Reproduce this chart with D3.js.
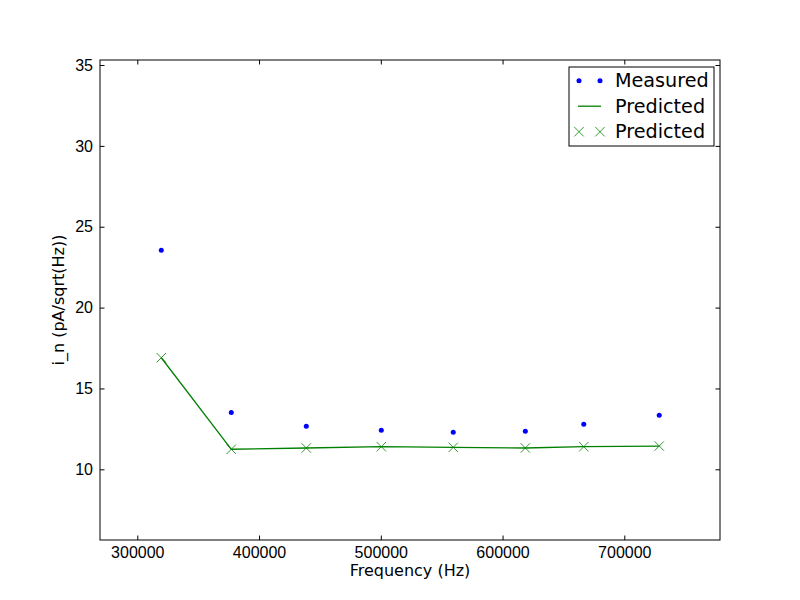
<!DOCTYPE html>
<html>
<head>
<meta charset="utf-8">
<script src="https://cdn.jsdelivr.net/npm/d3@7"></script>
<style>
  body { margin: 0; background: #fff; }
  svg { display: block; font-family: "DejaVu Sans", sans-serif; }
  .tick text { font-size: 16px; fill: #000; }
</style>
</head>
<body>
<div id="chart"></div>
<script>
// frequencies (Hz)
var frequencies = [319700, 377200, 438800, 500400, 559500, 618700, 666700, 728700];
// measured noise current
var measured = [23.54, 13.52, 12.66, 12.41, 12.29, 12.35, 12.78, 13.34];
// predicted noise current
var predicted = [16.90, 11.24, 11.32, 11.40, 11.36, 11.32, 11.40, 11.44];

var xTicks = [300000, 400000, 500000, 600000, 700000];
var yTicks = [10, 15, 20, 25, 30, 35];
var xDomain = [269360, 778600];
var yDomain = [5.63, 35.31];

var legendItems = ["Measured", "Predicted", "Predicted"];

function drawChart() {
    var svg = d3.select("#chart").append("svg")
        .attr("width", 800)
        .attr("height", 600);
    var margin = { top: 60, right: 80, bottom: 60, left: 100 },
        width = +svg.attr("width") - margin.left - margin.right,
        height = +svg.attr("height") - margin.top - margin.bottom,
        g = svg.append("g").attr("transform", "translate(" + margin.left + "," + margin.top + ")");

    var x = d3.scaleLinear().domain(xDomain).range([0, width]);
    var y = d3.scaleLinear().domain(yDomain).range([height, 0]);

    var data = frequencies.map(function (f, i) {
        return { f: f, m: measured[i], p: predicted[i] };
    });

    // axes, ticks pointing inward like matplotlib classic
    var bottom = g.append("g")
        .attr("transform", "translate(0," + height + ")")
        .call(d3.axisBottom(x).tickValues(xTicks).tickSize(-4.5).tickPadding(7).tickFormat(d3.format("d")));
    var top = g.append("g")
        .call(d3.axisTop(x).tickValues(xTicks).tickSize(-4.5).tickFormat(""));
    var left = g.append("g")
        .call(d3.axisLeft(y).tickValues(yTicks).tickSize(-4.5).tickPadding(7).tickFormat(d3.format("d")));
    var right = g.append("g")
        .attr("transform", "translate(" + width + ",0)")
        .call(d3.axisRight(y).tickValues(yTicks).tickSize(-4.5).tickFormat(""));

    [bottom, top, left, right].forEach(function (a) {
        a.select(".domain").remove();
        a.selectAll(".tick line").attr("stroke", "#000").attr("stroke-width", 1);
    });

    // predicted line
    var line = d3.line()
        .x(function (d) { return x(d.f); })
        .y(function (d) { return y(d.p); });

    g.append("path")
        .datum(data)
        .attr("d", line)
        .attr("fill", "none")
        .attr("stroke", "#008000")
        .attr("stroke-width", 1.3);

    // predicted markers
    var cross = d3.symbol().type(d3.symbolX).size(60);
    g.selectAll("path.pred")
        .data(data)
        .enter()
        .append("path")
        .attr("class", "pred")
        .attr("transform", function (d) { return "translate(" + x(d.f) + "," + y(d.p) + ")"; })
        .attr("d", cross)
        .attr("fill", "none")
        .attr("stroke", "#008000")
        .attr("stroke-width", 0.8);

    // measured dots
    g.selectAll("circle.meas")
        .data(data)
        .enter()
        .append("circle")
        .attr("class", "meas")
        .attr("cx", function (d) { return x(d.f); })
        .attr("cy", function (d) { return y(d.m); })
        .attr("r", 2.5)
        .attr("fill", "#0000ff");

    // frame
    g.append("rect")
        .attr("width", width)
        .attr("height", height)
        .attr("fill", "none")
        .attr("stroke", "#000")
        .attr("stroke-width", 1);

    // axis labels
    svg.append("text")
        .attr("x", margin.left + width / 2)
        .attr("y", 576)
        .attr("text-anchor", "middle")
        .style("font-size", "16px")
        .text("Frequency (Hz)");

    svg.append("text")
        .attr("transform", "translate(64," + (margin.top + height / 2) + ") rotate(-90)")
        .attr("text-anchor", "middle")
        .style("font-size", "16px")
        .text("i_n (pA/sqrt(Hz))");

    // legend
    var lg = svg.append("g").attr("transform", "translate(569,67)");
    lg.append("rect")
        .attr("width", 145)
        .attr("height", 79)
        .attr("fill", "#fff")
        .attr("stroke", "#000")
        .attr("stroke-width", 1);

    var rows = lg.selectAll("g.row")
        .data(legendItems)
        .enter()
        .append("g")
        .attr("class", "row")
        .attr("transform", function (d, i) { return "translate(0," + (13.7 + i * 25.5) + ")"; });

    rows.append("text")
        .attr("x", 46)
        .attr("dy", "0.35em")
        .style("font-size", "19.2px")
        .text(function (d) { return d; });

    [10, 31].forEach(function (px) {
        lg.append("circle")
            .attr("cx", px).attr("cy", 13.7).attr("r", 2.5)
            .attr("fill", "#0000ff");
        lg.append("path")
            .attr("transform", "translate(" + px + "," + (13.7 + 2 * 25.5) + ")")
            .attr("d", cross)
            .attr("fill", "none")
            .attr("stroke", "#008000")
            .attr("stroke-width", 0.8);
    });
    lg.append("line")
        .attr("x1", 9).attr("x2", 32)
        .attr("y1", 13.7 + 25.5).attr("y2", 13.7 + 25.5)
        .attr("stroke", "#008000")
        .attr("stroke-width", 1.3);
}

drawChart();
</script>
</body>
</html>
